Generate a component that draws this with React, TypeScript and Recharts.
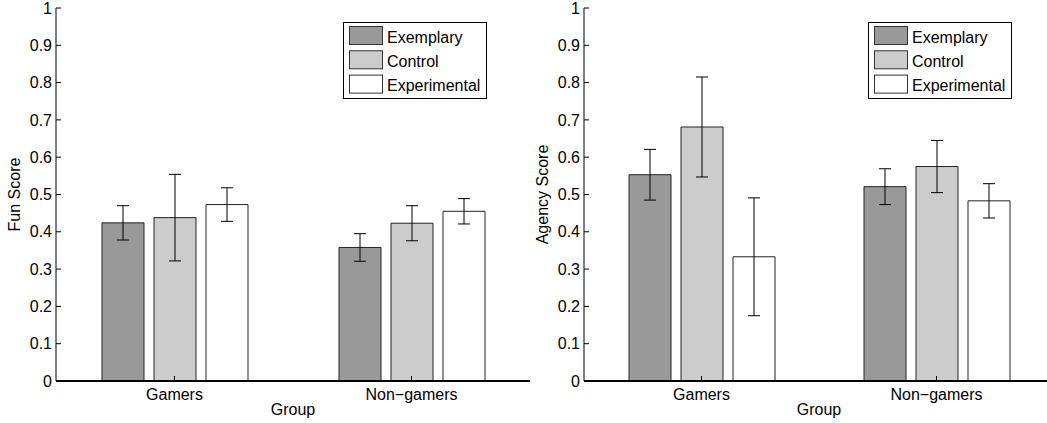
import React from 'react';
import { BarChart, Bar, XAxis, YAxis, ErrorBar, Legend, Label } from 'recharts';

const groups = ['Gamers', 'Non\u2212gamers'];
const seriesNames = ['Exemplary', 'Control', 'Experimental'];
const seriesColors = ['#999999', '#cccccc', '#ffffff'];
const yTicks = [0, 0.1, 0.2, 0.3, 0.4, 0.5, 0.6, 0.7, 0.8, 0.9, 1];

// Fun score
const funExemplary = [0.424, 0.358];
const funExemplaryErr = [0.046, 0.037];
const funControl = [0.438, 0.423];
const funControlErr = [0.116, 0.047];
const funExperimental = [0.473, 0.455];
const funExperimentalErr = [0.045, 0.034];

// Agency score
const agencyExemplary = [0.553, 0.521];
const agencyExemplaryErr = [0.068, 0.048];
const agencyControl = [0.681, 0.575];
const agencyControlErr = [0.134, 0.07];
const agencyExperimental = [0.333, 0.483];
const agencyExperimentalErr = [0.158, 0.046];

const FONT = '"Liberation Sans", Arial, Helvetica, sans-serif';

function buildRows(ex: number[], exErr: number[], co: number[], coErr: number[], xp: number[], xpErr: number[]) {
  return groups.map((g, i) => ({
    group: g,
    exemplary: ex[i],
    exemplaryErr: exErr[i],
    control: co[i],
    controlErr: coErr[i],
    experimental: xp[i],
    experimentalErr: xpErr[i],
  }));
}

const funRows = buildRows(funExemplary, funExemplaryErr, funControl, funControlErr, funExperimental, funExperimentalErr);
const agencyRows = buildRows(agencyExemplary, agencyExemplaryErr, agencyControl, agencyControlErr, agencyExperimental, agencyExperimentalErr);

const LeftTick = (props: any) => {
  const { x, y, payload } = props;
  return (
    <g>
      <line x1={x} x2={x + 5} y1={y} y2={y} stroke="#000" strokeWidth={1} />
      <text x={x - 4} y={y} dy="0.35em" textAnchor="end" fontSize={16} fontFamily={FONT} fill="#000">
        {String(payload.value)}
      </text>
    </g>
  );
};

const RightTick = (props: any) => {
  const { x, y } = props;
  return <line x1={x} x2={x - 5} y1={y} y2={y} stroke="#000" strokeWidth={1} />;
};

const TopTick = (props: any) => {
  const { x, y } = props;
  return <line x1={x} x2={x} y1={y} y2={y + 5} stroke="#000" strokeWidth={1} />;
};

const BottomTick = (props: any) => {
  const { x, y, payload } = props;
  return (
    <g>
      <line x1={x} x2={x} y1={y} y2={y - 5} stroke="#000" strokeWidth={1} />
      <text x={x} y={y + 18.5} textAnchor="middle" fontSize={16} fontFamily={FONT} fill="#000">
        {payload.value}
      </text>
    </g>
  );
};

const renderLegend = (props: any) => {
  const items = [...(props.payload || [])].sort(
    (a: any, b: any) => seriesNames.indexOf(a.value) - seriesNames.indexOf(b.value)
  );
  return (
    <svg width={145} height={78} style={{ display: 'block' }}>
      <rect x={0.5} y={0.5} width={143} height={76} fill="#fff" stroke="#000" strokeWidth={1} />
      {items.map((it: any, i: number) => {
        const idx = seriesNames.indexOf(it.value);
        return (
          <g key={i}>
            <rect x={6.5} y={4.5 + i * 24.3} width={33} height={18} fill={seriesColors[idx]} stroke="#333" strokeWidth={1} />
            <text x={44} y={20.5 + i * 24.3} fontSize={16} fontFamily={FONT} fill="#000">
              {it.value}
            </text>
          </g>
        );
      })}
    </svg>
  );
};

const labelStyle = { fontSize: 16, fontFamily: FONT, fill: '#000' };

function Panel({ rows, yLabel, left, plotWidth, legendLeft }: any) {
  const width = 56 + plotWidth + 11;
  const keys = ['exemplary', 'control', 'experimental'];
  return (
    <div style={{ position: 'absolute', left, top: 0 }}>
      <BarChart
        width={width}
        height={423}
        data={rows}
        margin={{ top: 8, right: 11, bottom: 0, left: 0 }}
        barGap={10}
        barSize={42}
      >
        {keys.map((k, i) => (
          <Bar key={k} dataKey={k} name={seriesNames[i]} fill={seriesColors[i]} stroke="#222" strokeWidth={1} isAnimationActive={false}>
            <ErrorBar dataKey={k + 'Err'} width={6} stroke="#000" strokeWidth={1} isAnimationActive={false} />
          </Bar>
        ))}
        <XAxis
          dataKey="group"
          height={42}
          tickSize={0}
          tickMargin={0}
          tickLine={false}
          interval={0}
          axisLine={{ stroke: '#000', strokeWidth: 2 }}
          tick={BottomTick}
        >
          <Label value="Group" position="insideBottom" offset={8} style={labelStyle} />
        </XAxis>
        <XAxis
          xAxisId="top"
          orientation="top"
          dataKey="group"
          height={0}
          tickSize={0}
          tickMargin={0}
          tickLine={false}
          interval={0}
          axisLine={{ stroke: '#000', strokeWidth: 1 }}
          tick={TopTick}
        />
        <YAxis
          width={56}
          domain={[0, 1]}
          ticks={yTicks}
          interval={0}
          tickSize={0}
          tickMargin={0}
          tickLine={false}
          allowDataOverflow
          axisLine={{ stroke: '#000', strokeWidth: 1 }}
          tick={LeftTick}
        >
          <Label value={yLabel} angle={-90} position="insideLeft" offset={14} style={{ ...labelStyle, textAnchor: 'middle' }} />
        </YAxis>
        <YAxis
          yAxisId="r"
          orientation="right"
          width={0}
          domain={[0, 1]}
          ticks={yTicks}
          interval={0}
          tickSize={0}
          tickMargin={0}
          tickLine={false}
          allowDataOverflow
          axisLine={{ stroke: '#000', strokeWidth: 1 }}
          tick={RightTick}
        />
        <Legend
          content={renderLegend}
          layout="vertical"
          align="center"
          verticalAlign="middle"
          wrapperStyle={{ left: legendLeft, top: 22, width: 145, height: 78 }}
        />
      </BarChart>
    </div>
  );
}

export default function App() {
  return (
    <div style={{ position: 'absolute', left: 0, top: 0, width: 1047, height: 423, overflow: 'hidden', background: '#fff' }}>
      <Panel rows={funRows} yLabel="Fun Score" left={0} plotWidth={474} legendLeft={343} />
      <Panel rows={agencyRows} yLabel="Agency Score" left={528} plotWidth={470} legendLeft={340} />
    </div>
  );
}
